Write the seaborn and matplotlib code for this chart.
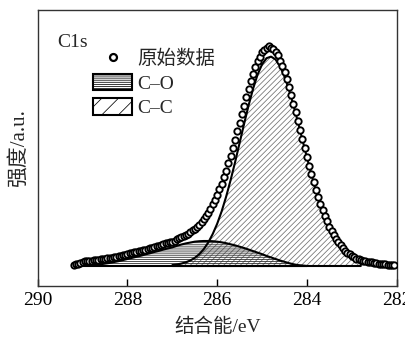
import numpy as np
import matplotlib
matplotlib.use("Agg")
import matplotlib.pyplot as plt
import seaborn as sns
from matplotlib.lines import Line2D
from matplotlib.patches import Patch

# Measured C1s spectrum: binding energy grid (eV) and intensity (a.u.)
scan_start, scan_stop = 289.20, 282.05
intensity = [
    0.003, 0.007, 0.010, 0.015, 0.018, 0.021, 0.022, 0.024, 0.025, 0.026,
    0.028, 0.029, 0.030, 0.032, 0.033, 0.035, 0.036, 0.038, 0.040, 0.042,
    0.044, 0.047, 0.049, 0.052, 0.054,
    0.057, 0.059, 0.062, 0.064, 0.067, 0.069, 0.072, 0.075, 0.078, 0.080,
    0.083, 0.087, 0.090, 0.092, 0.096, 0.099, 0.103, 0.105, 0.108, 0.111,
    0.116, 0.121, 0.126, 0.131, 0.137, 0.142, 0.148, 0.154, 0.162, 0.170,
    0.179, 0.189, 0.200, 0.213, 0.227, 0.243, 0.261, 0.281, 0.303, 0.324,
    0.349, 0.375, 0.404, 0.434, 0.468, 0.501, 0.538, 0.574, 0.614, 0.652,
    0.692, 0.731, 0.770, 0.808, 0.843, 0.877, 0.906, 0.934, 0.955, 0.974,
    0.987, 0.994, 1.002, 0.994, 0.990, 0.974, 0.961, 0.936, 0.911, 0.883,
    0.851, 0.817, 0.780, 0.741, 0.701, 0.660, 0.619, 0.577, 0.536, 0.495,
    0.456, 0.419, 0.383, 0.348, 0.316, 0.284, 0.255, 0.228, 0.203, 0.180,
    0.159, 0.140, 0.123, 0.108, 0.094, 0.081, 0.070, 0.061, 0.053, 0.045,
    0.039, 0.034, 0.030, 0.027, 0.024, 0.022, 0.020, 0.018, 0.016, 0.014,
    0.012, 0.011, 0.010, 0.008, 0.007, 0.006, 0.005, 0.004, 0.003,
]
energy = np.linspace(scan_start, scan_stop, len(intensity))

# Fitted C-O component
co_start, co_stop = 289.2, 284.0
co_fit = [
    0.000, 0.001, 0.002, 0.003, 0.004, 0.006, 0.008, 0.011, 0.014, 0.018,
    0.022, 0.027, 0.032, 0.037, 0.042, 0.047, 0.053, 0.058, 0.064, 0.069,
    0.075, 0.080, 0.085, 0.092, 0.098, 0.103, 0.107, 0.111, 0.113, 0.114,
    0.114, 0.113, 0.111, 0.108, 0.104, 0.099, 0.094, 0.088, 0.082, 0.075,
    0.068, 0.061, 0.054, 0.046, 0.039, 0.032, 0.025, 0.019, 0.013, 0.008,
    0.004, 0.002, 0.000,
]
co_energy = np.linspace(co_start, co_stop, len(co_fit))

# Fitted C-C component
cc_start, cc_stop = 287.0, 282.8
cc_fit = [
    0.004, 0.007, 0.011, 0.017, 0.025, 0.037, 0.054, 0.077, 0.107, 0.146,
    0.193, 0.250, 0.317, 0.393, 0.475, 0.562, 0.649, 0.733, 0.809, 0.873,
    0.920, 0.948, 0.955, 0.942, 0.911, 0.864, 0.804, 0.733, 0.656, 0.575,
    0.495, 0.417, 0.345, 0.280, 0.223, 0.174, 0.133, 0.100, 0.073, 0.053,
    0.037, 0.026, 0.018,
]
cc_energy = np.linspace(cc_start, cc_stop, len(cc_fit))

x_ticks = [290, 288, 286, 284, 282]
legend_labels = ["原始数据", "C–O", "C–C"]

sns.set_theme(style="white")
plt.rcParams["font.family"] = ["Liberation Serif", "Noto Sans CJK SC"]
plt.rcParams["hatch.linewidth"] = 0.55
plt.rcParams["axes.unicode_minus"] = False

fig = plt.figure(figsize=(4.06, 3.38), dpi=100)
ax = fig.add_axes([0.093, 0.154, 0.884, 0.816])

# hatched component areas
ax.fill_between(cc_energy, cc_fit, 0, facecolor="none", edgecolor="#707070",
                hatch="//////", linewidth=0, zorder=1)
ax.fill_between(co_energy, co_fit, 0, facecolor="none", edgecolor="#202020",
                hatch="--------", linewidth=0, zorder=1)
# component outlines
ax.fill_between(cc_energy, cc_fit, 0, facecolor="none", edgecolor="black",
                linewidth=1.5, zorder=2)
ax.fill_between(co_energy, co_fit, 0, facecolor="none", edgecolor="black",
                linewidth=1.5, zorder=2)

# raw data points
sns.scatterplot(x=energy, y=intensity, ax=ax, marker="o", s=21,
                color="white", edgecolor="black", linewidth=1.35,
                zorder=3, legend=False)

ax.set_xlim(290, 282)
ax.set_ylim(-0.091, 1.167)
ax.set_xticks(x_ticks)
ax.set_xticklabels([str(t) for t in x_ticks])
ax.set_yticks([])
ax.tick_params(axis="x", direction="in", length=5, width=1, pad=4.5,
               labelsize=14, bottom=True, colors="black")
for sp in ax.spines.values():
    sp.set_color("#333333")
    sp.set_linewidth(1.0)

ax.set_xlabel("结合能/eV", fontsize=14)
ax.xaxis.set_label_coords(0.5, -0.116)
ax.set_ylabel("强度/a.u.", fontsize=15)
ax.yaxis.set_label_coords(-0.025, 0.5)

ax.text(0.054, 0.884, "C1s", transform=ax.transAxes, fontsize=14,
        ha="left", va="center")

handles = [
    Line2D([], [], linestyle="none", marker="o", markersize=5,
           markerfacecolor="white", markeredgecolor="black", markeredgewidth=1.6),
    Patch(facecolor="white", edgecolor="black", hatch="--------", linewidth=1.5),
    Patch(facecolor="white", edgecolor="black", hatch="//", linewidth=1.5),
]
ax.legend(handles, legend_labels, loc="upper left",
          bbox_to_anchor=(0.155, 0.858), frameon=False, fontsize=14,
          handlelength=1.98, handleheight=0.94, handletextpad=0.27,
          labelspacing=0.28, borderpad=0, borderaxespad=0)

fig.savefig("out.png", dpi=100)
